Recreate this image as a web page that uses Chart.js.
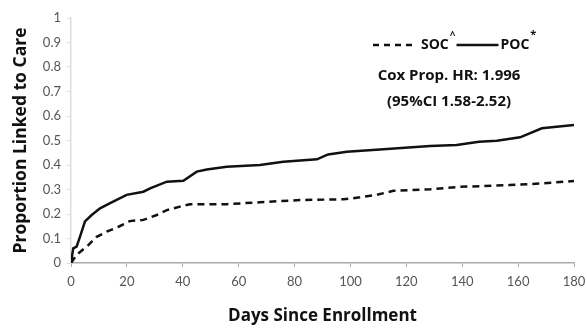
<!DOCTYPE html>
<html>
<head>
<meta charset="utf-8">
<script src="https://cdn.jsdelivr.net/npm/chart.js@4.4.1/dist/chart.umd.min.js"></script>
<style>
  html, body { margin: 0; padding: 0; background: #fff; }
  #wrap { width: 587px; height: 328px; }
</style>
</head>
<body>
<div id="wrap"><canvas id="kmChart" width="587" height="328"></canvas></div>
<script>
// Kaplan-Meier style curves (days, proportion)
const pocDays = [0, 0.8, 2, 3.2, 5, 7.4, 10.4, 14, 19.9, 25.9, 28.3, 34.3, 40.2, 45, 48.6, 55.7, 67.6, 76, 88, 92, 98.7, 111.8, 128.5, 138, 146, 152.4, 160.7, 168.5, 180];
const pocProp = [0, 0.06, 0.067, 0.107, 0.17, 0.196, 0.223, 0.244, 0.278, 0.291, 0.305, 0.332, 0.336, 0.373, 0.382, 0.393, 0.40, 0.413, 0.423, 0.443, 0.454, 0.464, 0.478, 0.482, 0.495, 0.499, 0.513, 0.55, 0.563];
const socDays = [0, 2, 6.2, 9.2, 12.8, 17, 21, 25.9, 30.7, 34.3, 39, 42.6, 55.7, 67.6, 82, 97.5, 103.4, 109.4, 115.4, 128.5, 139.2, 157, 169, 180];
const socProp = [0, 0.033, 0.073, 0.107, 0.128, 0.148, 0.171, 0.176, 0.196, 0.216, 0.23, 0.24, 0.24, 0.248, 0.257, 0.26, 0.268, 0.278, 0.295, 0.301, 0.311, 0.318, 0.325, 0.335];

const xTicks = [0, 20, 40, 60, 80, 100, 120, 140, 160, 180];
const yTicks = [0, 0.1, 0.2, 0.3, 0.4, 0.5, 0.6, 0.7, 0.8, 0.9, 1];

const toPoints = (xs, ys) => xs.map((x, i) => ({ x: x, y: ys[i] }));

// legend + Cox HR text drawn inside the plot area
const notePlugin = {
    id: 'notes',
    afterDraw(chart) {
        const c = chart.ctx;
        const a = chart.chartArea;
        const y0 = a.top + 27;
        let x = a.left + 302;
        c.save();
        c.fillStyle = '#111';
        c.strokeStyle = '#111';
        c.textBaseline = 'middle';
        c.lineWidth = 2.5;
        // dashed sample
        c.setLineDash([6, 5]);
        c.beginPath(); c.moveTo(x, y0); c.lineTo(x + 44, y0); c.stroke();
        c.setLineDash([]);
        x += 48;
        c.font = 'bold 14px "Open Sans"';
        c.fillText('SOC', x, y0);
        x += c.measureText('SOC').width + 1;
        c.font = 'bold 10px "Open Sans"';
        c.fillText('^', x, y0 - 9);
        x += c.measureText('^').width + 1;
        // solid sample
        c.beginPath(); c.moveTo(x, y0); c.lineTo(x + 42, y0); c.stroke();
        x += 44;
        c.font = 'bold 14px "Open Sans"';
        c.fillText('POC', x, y0);
        x += c.measureText('POC').width + 1;
        c.font = 'bold 11px "Open Sans"';
        c.fillText('*', x, y0 - 10);
        c.font = 'bold 15px "Open Sans"';
        c.textAlign = 'center';
        c.fillText('Cox Prop. HR: 1.996', a.left + 378, a.top + 58);
        c.fillText('(95%CI 1.58-2.52)', a.left + 378, a.top + 84);
        c.restore();
    }
};

const ctx = document.getElementById('kmChart').getContext('2d');

const kmChart = new Chart(ctx, {
    type: 'line',
    data: {
        datasets: [{
            label: 'SOC',
            data: toPoints(socDays, socProp),
            borderColor: '#111',
            borderWidth: 2.5,
            borderDash: [7, 5],
            pointRadius: 0,
            tension: 0
        }, {
            label: 'POC',
            data: toPoints(pocDays, pocProp),
            borderColor: '#111',
            borderWidth: 2.5,
            pointRadius: 0,
            tension: 0
        }]
    },
    options: {
        responsive: false,
        animation: false,
        layout: { padding: { top: 18, right: 13, left: 0, bottom: 0 } },
        plugins: {
            legend: { display: false },
            tooltip: { enabled: false }
        },
        scales: {
            x: {
                type: 'linear',
                min: 0,
                max: 180,
                afterBuildTicks: (s) => { s.ticks = xTicks.map(v => ({ value: v })); },
                afterFit: (s) => { s.height = 65; s.paddingRight = 0; s.paddingLeft = 0; },
                grid: { drawOnChartArea: false, tickLength: 4, color: '#aaa' },
                border: { color: '#aaa', width: 1.5 },
                ticks: { color: '#555', font: { family: 'Lato', size: 13 }, padding: 7, maxRotation: 0 },
                title: {
                    display: true,
                    text: 'Days Since Enrollment',
                    color: '#111',
                    font: { family: 'Open Sans', size: 17, weight: 'bold' },
                    padding: { top: 4, bottom: 2 }
                }
            },
            y: {
                min: 0,
                max: 1,
                afterBuildTicks: (s) => { s.ticks = yTicks.map(v => ({ value: v })); },
                afterFit: (s) => { s.width = 71; },
                grid: { drawOnChartArea: false, tickLength: 4, color: '#ddd' },
                border: { color: '#ddd', width: 1.5 },
                ticks: {
                    color: '#555',
                    font: { family: 'Lato', size: 13 },
                    padding: 6,
                    callback: (v) => String(Math.round(v * 10) / 10)
                },
                title: {
                    display: true,
                    text: 'Proportion Linked to Care',
                    color: '#111',
                    font: { family: 'Open Sans', size: 17.5, weight: 'bold' },
                    padding: { top: 11, bottom: 4 }
                }
            }
        }
    },
    plugins: [notePlugin]
});
</script>
</body>
</html>
